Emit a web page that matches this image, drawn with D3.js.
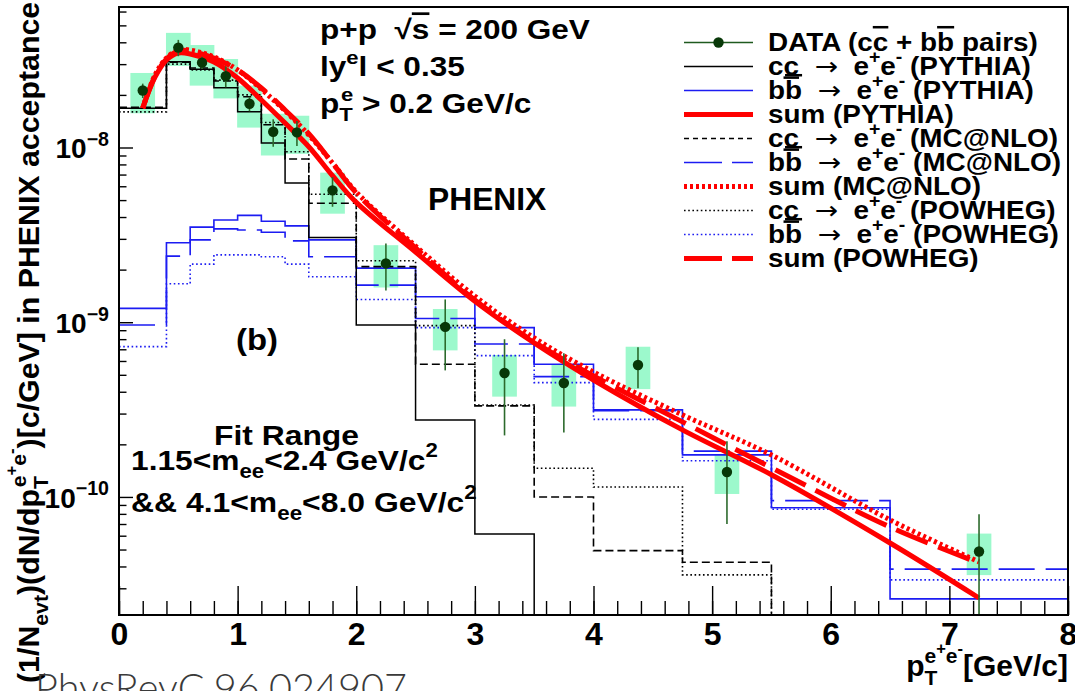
<!DOCTYPE html>
<html>
<head>
<meta charset="utf-8">
<script src="https://cdn.jsdelivr.net/npm/d3@7"></script>
<style>
  body { margin: 0; background: #fff; }
  svg { display: block; font-family: "Liberation Sans", Arial, Helvetica, sans-serif; font-weight: bold; }
  text { white-space: pre; }
</style>
</head>
<body>
<div id="chart"></div>
<script>
// histogram bin edges (pT of the pair, GeV/c)
var binEdges = [0, 0.4, 0.6, 0.8, 1.0, 1.2, 1.4, 1.6, 2.0, 2.5, 3.0, 3.5, 4.0, 4.75, 5.5, 6.5, 8.0];

// c cbar -> e+e-  (0 = below the plotted range)
var ccPythia = [1.68e-8, 3.1e-8, 2.8e-8, 2.2e-8, 1.6e-8, 1.06e-8, 6.26e-9, 3.05e-9, 9.64e-10, 2.76e-10, 6.14e-11, 0, 0, 0, 0, 0];
var ccMcnlo  = [1.7e-8, 3.08e-8, 2.85e-8, 2.4e-8, 1.95e-8, 1.35e-8, 8.6e-9, 4.8e-9, 2.08e-9, 5.75e-10, 3.32e-10, 1.0e-10, 4.93e-11, 4.23e-11, 0, 0];
var ccPowheg = [1.6e-8, 3.0e-8, 2.78e-8, 2.43e-8, 2.0e-8, 1.39e-8, 9.46e-9, 5.4e-9, 2.25e-9, 9.56e-10, 3.36e-10, 1.46e-10, 1.14e-10, 3.58e-11, 0, 0];
// b bbar -> e+e-
var bbPythia = [1.2e-9, 2.85e-9, 3.5e-9, 3.85e-9, 4.09e-9, 3.78e-9, 3.56e-9, 2.96e-9, 2.04e-9, 1.4e-9, 9.31e-10, 5.75e-10, 3.15e-10, 1.74e-10, 8.68e-11, 2.61e-11];
var bbMcnlo  = [9.64e-10, 2.39e-9, 2.96e-9, 3.42e-9, 3.37e-9, 3.27e-9, 2.92e-9, 2.37e-9, 1.63e-9, 1.05e-9, 7.51e-10, 4.88e-10, 3.12e-10, 1.83e-10, 9.52e-11, 3.86e-11];
var bbPowheg = [7.25e-10, 1.66e-9, 2.15e-9, 2.43e-9, 2.43e-9, 2.37e-9, 2.15e-9, 1.82e-9, 1.35e-9, 9.31e-10, 6.44e-10, 4.51e-10, 2.78e-10, 1.61e-10, 8.5e-11, 3.35e-11];

// summed curves
var sumPt     = [0.2, 0.3, 0.4, 0.5, 0.6, 0.8, 1.0, 1.2, 1.4, 1.6, 1.8, 2.0, 2.5, 3.0, 3.5, 4.0, 4.75, 5.5, 6.5, 7.25];
var sumPythia = [1.68e-8, 2.5e-8, 3.17e-8, 3.47e-8, 3.43e-8, 3.09e-8, 2.5e-8, 1.87e-8, 1.38e-8, 1.01e-8, 6.9e-9, 4.85e-9, 2.52e-9, 1.32e-9, 7.61e-10, 4.67e-10, 2.42e-10, 1.34e-10, 5.45e-11, 2.64e-11];
var sumMcnlo  = [1.68e-8, 2.57e-8, 3.25e-8, 3.61e-8, 3.61e-8, 3.3e-8, 2.78e-8, 2.16e-8, 1.62e-8, 1.18e-8, 8.15e-9, 5.56e-9, 2.73e-9, 1.41e-9, 8.13e-10, 5.19e-10, 2.95e-10, 1.74e-10, 7.39e-11, 4.25e-11];
var sumPowheg = [1.68e-8, 2.53e-8, 3.21e-8, 3.57e-8, 3.57e-8, 3.25e-8, 2.78e-8, 2.19e-8, 1.64e-8, 1.2e-8, 8.15e-9, 5.49e-9, 2.66e-9, 1.34e-9, 7.71e-10, 4.93e-10, 2.69e-10, 1.47e-10, 6.73e-11, 4.19e-11];

// data points
var dataPt   = [0.2, 0.5, 0.7, 0.9, 1.1, 1.3, 1.5, 1.8, 2.25, 2.75, 3.25, 3.75, 4.375, 5.125, 7.25];
var dataVal  = [2.12e-8, 3.73e-8, 3.06e-8, 2.56e-8, 1.78e-8, 1.23e-8, 1.22e-8, 5.68e-9, 2.17e-9, 9.4e-10, 5.12e-10, 4.49e-10, 5.69e-10, 1.39e-10, 4.87e-11];
var dataStat = [0.2e-8, 0.4e-8, 0.25e-8, 0.35e-8, 0.17e-8, 0.22e-8, 0.2e-8, 1.1e-9, 0.65e-9, 4.1e-10, 2.87e-10, 2.15e-10, 1.5e-10, 0.69e-10, 3.1e-11];
var dataSys  = [0.55e-8, 0.8e-8, 0.8e-8, 0.65e-8, 0.48e-8, 0.33e-8, 0.3e-8, 1.5e-9, 0.59e-9, 2.5e-10, 1.37e-10, 1.2e-10, 1.55e-10, 0.35e-10, 1.3e-11];
var sysHalfWidth = 0.104;

var xTicks = [0, 1, 2, 3, 4, 5, 6, 7, 8];
var yTicks = [1e-10, 1e-9, 1e-8];
var yTickExp = ["\u221210", "\u22129", "\u22128"];

var legendLabels = [
  [["DATA (c"], ["c", "ov"], [" + b"], ["b", "ov"], [" pairs)"]],
  [["c"], ["c", "un"], ["  "], ["\u2192", "arr"], ["  e"], ["+", "sup"], ["e"], ["-", "sup"], [" (PYTHIA)"]],
  [["b"], ["b", "ov"], ["  "], ["\u2192", "arr"], ["  e"], ["+", "sup"], ["e"], ["-", "sup"], [" (PYTHIA)"]],
  [["sum (PYTHIA)"]],
  [["c"], ["c", "un"], ["  "], ["\u2192", "arr"], ["  e"], ["+", "sup"], ["e"], ["-", "sup"], [" (MC@NLO)"]],
  [["b"], ["b", "ov"], ["  "], ["\u2192", "arr"], ["  e"], ["+", "sup"], ["e"], ["-", "sup"], [" (MC@NLO)"]],
  [["sum (MC@NLO)"]],
  [["c"], ["c", "un"], ["  "], ["\u2192", "arr"], ["  e"], ["+", "sup"], ["e"], ["-", "sup"], [" (POWHEG)"]],
  [["b"], ["b", "ov"], ["  "], ["\u2192", "arr"], ["  e"], ["+", "sup"], ["e"], ["-", "sup"], [" (POWHEG)"]],
  [["sum (POWHEG)"]]
];

var W = 1075, H = 691;
var margin = { top: 7, right: 7, bottom: 76, left: 119 };

var svg = d3.select("#chart").append("svg").attr("width", W).attr("height", H);

var x = d3.scaleLinear().domain([0, 8]).range([margin.left, W - margin.right]);
var y = d3.scaleLog().domain([2.11e-11, 6.37e-8]).range([H - margin.bottom, margin.top]);
var yBottom = y.range()[0];

svg.append("clipPath").attr("id", "frame").append("rect")
  .attr("x", x(0)).attr("y", y.range()[1])
  .attr("width", x(8) - x(0)).attr("height", yBottom - y.range()[1]);

var plot = svg.append("g").attr("clip-path", "url(#frame)");

function yv(v) { return v > 0 ? y(v) : yBottom + 20; }

// ---- rich text helper (sub/superscripts, bars)
function rich(parent, parts, size) {
  var t = parent.append("text").attr("font-size", size);
  var cur = 0, prevSub = null;
  parts.forEach(function (p) {
    var k = p[1] || "n", off = 0, fs = size;
    if (k === "sup" || k === "stack") { off = -0.45 * size; fs = 0.7 * size; }
    else if (k === "sup2") { off = -0.72 * size; fs = 0.55 * size; }
    else if (k === "sub") { off = 0.3 * size; fs = 0.7 * size; }
    var ts = t.append("tspan").attr("font-size", fs).attr("dy", off - cur).text(p[0]);
    if (k === "stack" && prevSub) ts.attr("dx", -prevSub.node().getComputedTextLength());
    if (k === "ov") ts.style("text-decoration", "overline");
    if (k === "un") ts.style("text-decoration", "underline");
    if (k === "arr") ts.attr("font-family", "DejaVu Sans").attr("font-weight", "normal");
    cur = off;
    prevSub = k === "sub" ? ts : null;
  });
  return t;
}
function fitScale(t, w) { return w / t.node().getBBox().width; }
function place(t, tx, ty, s, rot) {
  t.attr("transform", "translate(" + tx + "," + ty + ")" + (rot ? " rotate(" + rot + ")" : "") + " scale(" + s + ",1)");
}

// ---- systematic boxes
plot.selectAll("rect.sys").data(dataPt).join("rect").attr("class", "sys")
  .attr("x", function (d) { return x(d - sysHalfWidth); })
  .attr("width", function (d) { return x(d + sysHalfWidth) - x(d - sysHalfWidth); })
  .attr("y", function (d, i) { return y(dataVal[i] + dataSys[i]); })
  .attr("height", function (d, i) { return y(dataVal[i] - dataSys[i]) - y(dataVal[i] + dataSys[i]); })
  .attr("fill", "#9cf9cc");

// ---- histograms
var blue = "#1c1cf2";
var hists = [
  { vals: bbPowheg, color: blue, dash: "1.6,2.6", w: 1.6 },
  { vals: bbMcnlo, color: blue, dash: "36,11", w: 1.6 },
  { vals: bbPythia, color: blue, dash: null, w: 1.6 },
  { vals: ccPowheg, color: "#000", dash: "1.6,2.6", w: 1.6 },
  { vals: ccMcnlo, color: "#000", dash: "8,4", w: 1.6 },
  { vals: ccPythia, color: "#000", dash: null, w: 1.5 }
];
var stepLine = d3.line()
  .x(function (d) { return x(d[0]); })
  .y(function (d) { return yv(d[1]); })
  .curve(d3.curveStepAfter);
hists.forEach(function (h) {
  var pts = h.vals.map(function (v, i) { return [binEdges[i], v]; });
  pts.push([binEdges[binEdges.length - 1], h.vals[h.vals.length - 1]]);
  plot.append("path").attr("d", stepLine(pts))
    .attr("fill", "none").attr("stroke", h.color).attr("stroke-width", h.w)
    .attr("stroke-dasharray", h.dash);
});

// ---- summed curves
var curve = d3.line()
  .x(function (d) { return x(d[0]); })
  .y(function (d) { return y(d[1]); })
  .curve(d3.curveCatmullRom.alpha(0.5));
var sums = [
  { vals: sumMcnlo, dash: "3,3" },
  { vals: sumPowheg, dash: "34,11" },
  { vals: sumPythia, dash: null }
];
sums.forEach(function (s) {
  plot.append("path").attr("d", curve(sumPt.map(function (p, i) { return [p, s.vals[i]]; })))
    .attr("fill", "none").attr("stroke", "#ff0000").attr("stroke-width", 5)
    .attr("stroke-dasharray", s.dash);
});

// ---- data: stat errors and markers
plot.selectAll("line.stat").data(dataPt).join("line").attr("class", "stat")
  .attr("x1", function (d) { return x(d); }).attr("x2", function (d) { return x(d); })
  .attr("y1", function (d, i) { return y(dataVal[i] + dataStat[i]); })
  .attr("y2", function (d, i) { return yv(dataVal[i] - dataStat[i]); })
  .attr("stroke", "#2c6a2c").attr("stroke-width", 1.6);
plot.selectAll("circle.pt").data(dataPt).join("circle").attr("class", "pt")
  .attr("cx", function (d) { return x(d); })
  .attr("cy", function (d, i) { return y(dataVal[i]); })
  .attr("r", 5.2).attr("fill", "#083808");

// ---- axes
var axes = svg.append("g").style("color", "#000");
var minorX = d3.range(0, 8.001, 0.2);
axes.append("g").attr("transform", "translate(0," + yBottom + ")")
  .call(d3.axisBottom(x).tickValues(minorX).tickSizeInner(-14).tickSizeOuter(0).tickFormat(""))
  .call(function (g) { g.select(".domain").remove(); g.selectAll("line").attr("stroke-width", 1.4); });
axes.append("g").attr("transform", "translate(0," + yBottom + ")")
  .call(d3.axisBottom(x).tickValues(xTicks).tickSizeInner(-29).tickSizeOuter(0).tickPadding(7).tickFormat(d3.format("d")))
  .call(function (g) {
    g.select(".domain").remove();
    g.selectAll("line").attr("stroke-width", 1.4);
    g.selectAll("text").attr("font-size", 32).attr("font-family", null).attr("fill", "#000");
  });

var minorY = [];
[-11, -10, -9, -8].forEach(function (n) {
  for (var k = 2; k <= 9; k++) {
    var v = k * Math.pow(10, n);
    if (v > y.domain()[0] && v < y.domain()[1]) minorY.push(v);
  }
});
axes.append("g").attr("transform", "translate(" + x(0) + ",0)")
  .call(d3.axisLeft(y).tickValues(minorY).tickSizeInner(-7.5).tickSizeOuter(0).tickFormat(""))
  .call(function (g) { g.select(".domain").remove(); g.selectAll("line").attr("stroke-width", 1.4); });
axes.append("g").attr("transform", "translate(" + x(0) + ",0)")
  .call(d3.axisLeft(y).tickValues(yTicks).tickSizeInner(-14).tickSizeOuter(0).tickFormat(""))
  .call(function (g) { g.select(".domain").remove(); g.selectAll("line").attr("stroke-width", 1.4); });

yTicks.forEach(function (v, i) {
  var t = rich(svg, [["10"], [yTickExp[i], "sup"]], 28).attr("text-anchor", "end");
  place(t, 109, y(v) + 11, 1);
});

// frame
svg.append("rect").attr("x", x(0)).attr("y", y.range()[1])
  .attr("width", x(8) - x(0)).attr("height", yBottom - y.range()[1])
  .attr("fill", "none").attr("stroke", "#000").attr("stroke-width", 2);

// axis titles
var xt = rich(svg, [["p"], ["T", "sub"], ["e", "stack"], ["+", "sup2"], ["e", "sup"], ["-", "sup2"], ["[GeV/c]"]], 30)
  .attr("text-anchor", "end");
place(xt, 1068, 676, 1);

var yt = rich(svg, [["(1/N"], ["evt", "sub"], [")(dN/dp"], ["T", "sub"], ["e", "stack"], ["+", "sup2"], ["e", "sup"], ["-", "sup2"],
  [")[c/GeV] in PHENIX acceptance"]], 30);
place(yt, 39, 683, fitScale(yt, 680), -90);

// ---- annotations
var a1 = rich(svg, [["p+p  \u221A"], ["s", "ov"], [" = 200 GeV"]], 27);
var annScale = fitScale(a1, 270);
place(a1, 320, 39, annScale);
var a2 = rich(svg, [["ly"], ["e", "sup"], ["l < 0.35"]], 27);
place(a2, 320, 76, annScale);
var a3 = rich(svg, [["p"], ["T", "sub"], ["e", "stack"], [" > 0.2 GeV/c", "n"]], 27);
place(a3, 320, 113, annScale);

var ph = rich(svg, [["PHENIX"]], 32);
place(ph, 428, 210, fitScale(ph, 119));
var pb = rich(svg, [["(b)"]], 30);
place(pb, 236, 350, fitScale(pb, 42));
var f1 = rich(svg, [["Fit Range"]], 28);
place(f1, 214, 445, fitScale(f1, 145));
var f2 = rich(svg, [["1.15<m"], ["ee", "sub"], ["<2.4 GeV/c"], ["2", "sup"]], 28);
place(f2, 131, 470, fitScale(f2, 307));
var f3 = rich(svg, [["&& 4.1<m"], ["ee", "sub"], ["<8.0 GeV/c"], ["2", "sup"]], 28);
place(f3, 131, 512, fitScale(f3, 346));

// ---- legend
var legendStyles = [
  { color: "#1f5a1f", w: 1.6, dash: null, dot: true },
  { color: "#000", w: 1.4, dash: null },
  { color: blue, w: 1.6, dash: null },
  { color: "#ff0000", w: 5, dash: null },
  { color: "#000", w: 1.4, dash: "5,4" },
  { color: blue, w: 1.6, dash: "38,10" },
  { color: "#ff0000", w: 5, dash: "3,3" },
  { color: "#000", w: 1.4, dash: "1.6,2.6" },
  { color: blue, w: 1.6, dash: "1.6,2.6" },
  { color: "#ff0000", w: 5, dash: "38,10" }
];
var leg = svg.append("g");
var legScale = null;
legendLabels.forEach(function (parts, i) {
  var ly = 42.5 + i * 24;
  var st = legendStyles[i];
  leg.append("line").attr("x1", 684).attr("x2", 753).attr("y1", ly).attr("y2", ly)
    .attr("stroke", st.color).attr("stroke-width", st.w).attr("stroke-dasharray", st.dash);
  if (st.dot) leg.append("circle").attr("cx", 718.5).attr("cy", ly).attr("r", 5.2).attr("fill", "#083808");
  var t = rich(leg, parts, 25);
  if (legScale === null) legScale = fitScale(t, 270);
  place(t, 768, ly + 8, legScale);
});

// watermark
var wm = svg.append("text").attr("font-family", "Lato, 'Open Sans', sans-serif").attr("font-weight", 300)
  .attr("font-size", 40).attr("fill", "#3a3a3a").text("PhysRevC.96.024907");
place(wm, 35, 702, fitScale(wm, 372));
</script>
</body>
</html>
